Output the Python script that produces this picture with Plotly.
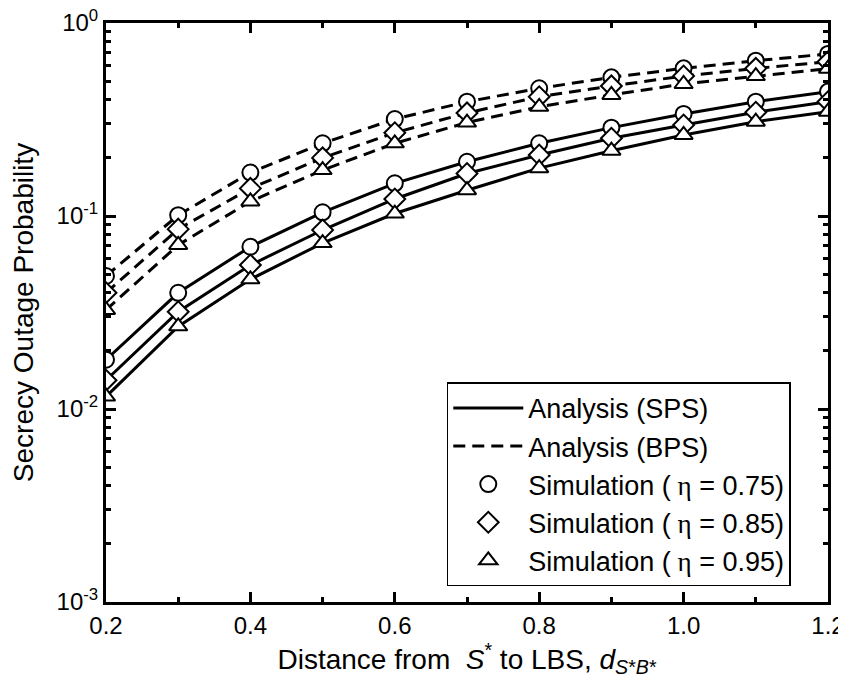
import plotly.graph_objects as go

# ---- data ----
distance = [0.2, 0.3, 0.4, 0.5, 0.6, 0.7, 0.8, 0.9, 1.0, 1.1, 1.2]

sps_075 = [0.0180, 0.0400, 0.0693, 0.1045, 0.1477, 0.191, 0.238, 0.287, 0.338, 0.391, 0.441]
sps_085 = [0.0141, 0.0319, 0.0557, 0.0846, 0.1225, 0.166, 0.207, 0.253, 0.296, 0.345, 0.391]
sps_095 = [0.0116, 0.0268, 0.0470, 0.0724, 0.1030, 0.136, 0.177, 0.218, 0.263, 0.308, 0.347]

bps_075 = [0.0489, 0.101, 0.168, 0.238, 0.318, 0.391, 0.459, 0.523, 0.582, 0.638, 0.691]
bps_085 = [0.0400, 0.0855, 0.139, 0.200, 0.270, 0.342, 0.415, 0.472, 0.531, 0.582, 0.630]
bps_095 = [0.0326, 0.0708, 0.119, 0.173, 0.238, 0.305, 0.368, 0.424, 0.483, 0.531, 0.580]

eta_labels = ["0.75", "0.85", "0.95"]
symbols = ["circle", "diamond", "triangle-up"]

y_tickvals = [1e-3, 1e-2, 1e-1, 1e0]
y_ticktext = ["10<sup>-3</sup>", "10<sup>-2</sup>", "10<sup>-1</sup>", "10<sup>0</sup>"]
x_tickvals = [0.2, 0.4, 0.6, 0.8, 1.0, 1.2]
x_ticktext = ["0.2", "0.4", "0.6", "0.8", "1.0", "1.2"]
x_minor = [0.3, 0.5, 0.7, 0.9, 1.1]
y_minor = [m * 10 ** e for e in (-3, -2, -1) for m in range(2, 10)]

FONT = "Arial, Liberation Sans, sans-serif"
sps = [sps_075, sps_085, sps_095]
bps = [bps_075, bps_085, bps_095]

fig = go.Figure()

# analysis curves
for i, ys in enumerate(sps):
    fig.add_trace(go.Scatter(x=distance, y=ys, mode="lines",
                             line=dict(color="black", width=3),
                             name="Analysis (SPS)", legendgroup="sps",
                             showlegend=(i == 0)))
for i, ys in enumerate(bps):
    fig.add_trace(go.Scatter(x=distance, y=ys, mode="lines",
                             line=dict(color="black", width=3, dash="12px,7px"),
                             name="Analysis (BPS)", legendgroup="bps",
                             showlegend=(i == 0)))

# simulation markers
for i in range(3):
    name = "Simulation (<span style='font-family:Liberation Serif'> \u03b7</span> = %s)" % eta_labels[i]
    for k, ys in enumerate([sps[i], bps[i]]):
        fig.add_trace(go.Scatter(x=distance, y=ys, mode="markers",
                                 marker=dict(symbol=symbols[i], size=16, color="white",
                                             line=dict(color="black", width=2)),
                                 name=name, legendgroup="sim%d" % i,
                                 showlegend=(k == 0)))

# margins compensate for the page's default 8px body margin
fig.update_layout(
    width=846, height=698,
    margin=dict(l=98, r=26, t=15, b=104),
    paper_bgcolor="white", plot_bgcolor="white",
    font=dict(family=FONT, color="black", size=24),
    xaxis=dict(range=[0.2, 1.2], tickmode="array", tickvals=x_tickvals, ticktext=x_ticktext,
               ticks="inside", ticklen=10, tickwidth=3, tickcolor="black",
               mirror="ticks", showline=True, linecolor="black", linewidth=3,
               showgrid=False, zeroline=False, automargin=False,
               ticklabeloverflow="allow",
               minor=dict(tickmode="array", tickvals=x_minor, ticks="inside",
                          ticklen=5, tickwidth=3, tickcolor="black", showgrid=False),
               title=dict(text="Distance from  <i>S</i><sup>*</sup> to LBS, <i>d</i><sub><i>S</i>*<i>B</i>*</sub>",
                          font=dict(size=28), standoff=10),
               tickfont=dict(size=24)),
    yaxis=dict(type="log", range=[-3, 0], tickmode="array", tickvals=y_tickvals, ticktext=y_ticktext,
               ticks="inside", ticklen=10, tickwidth=3, tickcolor="black",
               mirror="ticks", showline=True, linecolor="black", linewidth=3,
               showgrid=False, zeroline=False, automargin=False,
               ticklabeloverflow="allow",
               minor=dict(tickmode="array", tickvals=y_minor, ticks="inside", ticklen=5,
                          tickwidth=3, tickcolor="black", showgrid=False),
               title=dict(text="Secrecy Outage Probability", font=dict(size=28)),
               tickfont=dict(size=24)),
    legend=dict(x=0.472, y=0.027, xanchor="left", yanchor="bottom",
                bgcolor="white", bordercolor="black", borderwidth=1.5,
                font=dict(size=27), itemwidth=70, tracegroupgap=0,
                traceorder="normal"),
    showlegend=True,
)

fig.write_html("out.html")
